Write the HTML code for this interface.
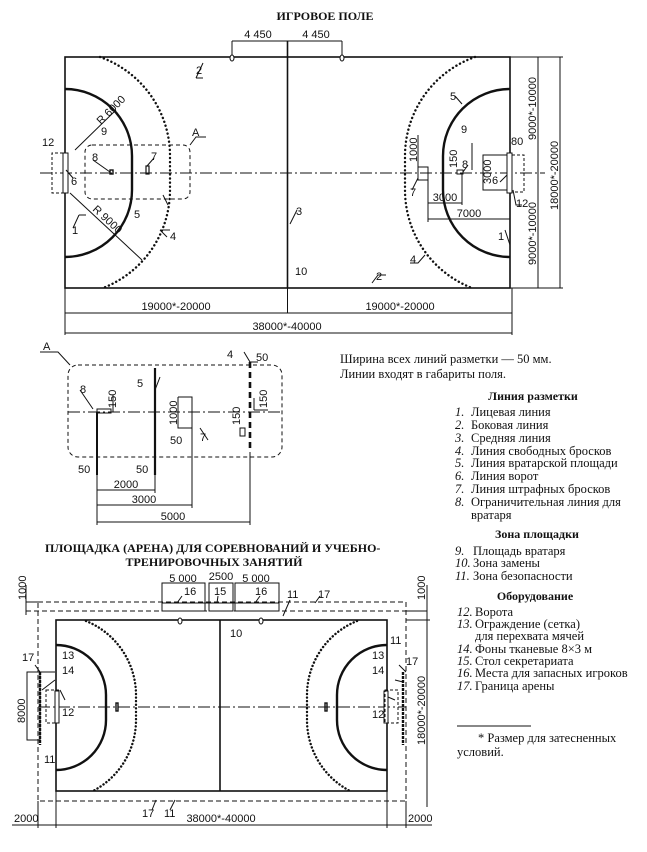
<!DOCTYPE html>
<html><head><meta charset="utf-8"><style>
html,body{margin:0;padding:0;background:#fff;}
svg{display:block;}
.s{font-family:"Liberation Sans",sans-serif;font-size:11px;fill:#111;}
.r{font-family:"Liberation Serif",serif;font-size:12.5px;fill:#111;}
.b{font-family:"Liberation Serif",serif;font-size:12px;font-weight:bold;fill:#111;}
.i{font-style:italic;}
</style></head><body>
<svg width="647" height="852" viewBox="0 0 647 852" xmlns="http://www.w3.org/2000/svg">
<g stroke="#111" fill="none" stroke-width="1">
<!-- ===== TOP FIELD ===== -->
<rect x="65" y="57" width="445" height="231" stroke-width="1.6"/>
<line x1="287.5" y1="41" x2="287.5" y2="288" stroke-width="1.6"/>
<line x1="40" y1="173" x2="545" y2="173" stroke-dasharray="12 3 2 3"/>
<!-- goal areas -->
<path d="M65 89 A67 67 0 0 1 132 156 L132 190 A67 67 0 0 1 65 257" stroke-width="2.4"/>
<path d="M510 89 A67 67 0 0 0 443 156 L443 190 A67 67 0 0 0 510 257" stroke-width="2.4"/>
<!-- free throw dotted -->
<path d="M100 57 A105 105 0 0 1 170 156 L170 190 A105 105 0 0 1 103 288" stroke-width="2.4" stroke-dasharray="0.1 4" stroke-linecap="round"/>
<path d="M475 57 A105 105 0 0 0 405 156 L405 190 A105 105 0 0 0 472 288" stroke-width="2.4" stroke-dasharray="0.1 4" stroke-linecap="round"/>
<!-- goals -->
<rect x="63" y="153" width="5" height="40" fill="#fff"/>
<rect x="507" y="153" width="5" height="40" fill="#fff"/>
<path d="M63 153 H52 V193 H63" stroke-dasharray="3 2"/>
<path d="M512 155 H524 V192 H512" stroke-dasharray="3 2"/>
<path d="M507 155 H483 V190 H507"/>
<!-- radius lines -->
<line x1="75" y1="150" x2="116" y2="110"/>
<line x1="70" y1="193" x2="142" y2="260"/>
<!-- box A -->
<rect x="85" y="145" width="105" height="54" rx="7" stroke-dasharray="4 3"/>
<path d="M190 145 L196 137 H206"/>
<!-- marks 7,8 -->
<rect x="110" y="170" width="3" height="4" stroke-width="1.4"/>
<rect x="146" y="166" width="3" height="8" stroke-width="1.2"/>
<rect x="418" y="167" width="10" height="13"/>
<rect x="457" y="170" width="6" height="4"/>
<!-- top dims -->
<path d="M232 41 H342 M232 41 V60 M342 41 V60"/>
<ellipse cx="232" cy="58" rx="2" ry="3" fill="#fff"/>
<ellipse cx="342" cy="58" rx="2" ry="3" fill="#fff"/>
<!-- bottom dims -->
<path d="M65 288 V335 M287.5 288 V313 M512 288 V335 M65 313 H512 M65 333 H512"/>
<!-- right dims -->
<path d="M510 57 H563 M510 288 H563 M538 57 V288 M560 57 V288"/>
<!-- right side detail dims -->
<path d="M418 167 V135 M428 180 V222 M462 174 V205 M428 203 H462 M428 219 H510 M472 170 V143"/>
<!-- leaders -->
<path d="M196 78 L203 63 M203 78 H196"/>
<path d="M73 228 L79 215 M79 215 H86"/>
<path d="M73 178 L66 170"/>
<path d="M168 205 L163 195"/>
<path d="M167 237 L160 230 M160 230 H170"/>
<path d="M290 224 L297 210"/>
<path d="M372 283 L378 275 M378 275 H386"/>
<path d="M505 230 L510 245"/>
<path d="M93 160 L110 172"/>
<path d="M147 166 L154 158"/>
<path d="M418 178 L412 190"/>
<path d="M463 172 L468 165"/>
<path d="M500 182 L507 175"/>
<path d="M513 190 L516 205 H522"/>
<path d="M425 255 L418 263 H410"/>
<path d="M455 96 L462 104"/>

<!-- ===== DETAIL A ===== -->
<rect x="68" y="365" width="214" height="92" rx="10" stroke-dasharray="4 3"/>
<path d="M40 352 H58 L70 365"/>
<line x1="68" y1="412" x2="282" y2="412" stroke-dasharray="12 3 2 3"/>
<line x1="97" y1="412" x2="97" y2="475" stroke-width="2"/>
<rect x="97" y="409" width="14" height="4"/>
<line x1="155" y1="368" x2="155" y2="475" stroke-width="2.2"/>
<path d="M178 397 H192 V448 M178 397 V428 H192"/>
<line x1="250" y1="362" x2="250" y2="452" stroke-width="2.6" stroke-dasharray="6 4"/>
<rect x="240" y="428" width="5" height="8"/>
<path d="M254 410 H268 M254 398 V410 M113 395 V412"/>
<path d="M97 475 V525 M155 475 V493 M192 448 V508 M250 452 V525 M97 490 H155 M97 505 H192 M97 522 H250"/>
<path d="M80 390 L93 409 M160 377 L155 390 M208 440 L200 428 M244 352 L250 362 H258"/>

<!-- ===== ARENA ===== -->
<rect x="56" y="620" width="331" height="171" stroke-width="1.6"/>
<line x1="220" y1="620" x2="220" y2="791" stroke-width="1.6"/>
<line x1="38" y1="707" x2="406" y2="707" stroke-dasharray="12 3 2 3"/>
<path d="M56 645 A50 50 0 0 1 106 695 L106 720 A50 50 0 0 1 56 770" stroke-width="2.4"/>
<path d="M387 645 A50 50 0 0 0 337 695 L337 720 A50 50 0 0 0 387 770" stroke-width="2.4"/>
<path d="M86 621 A80 80 0 0 1 136 695 L136 720 A80 80 0 0 1 93 791" stroke-width="2.4" stroke-dasharray="0.1 3.5" stroke-linecap="round"/>
<path d="M357 621 A80 80 0 0 0 307 695 L307 720 A80 80 0 0 0 350 791" stroke-width="2.4" stroke-dasharray="0.1 3.5" stroke-linecap="round"/>
<rect x="55" y="691" width="4" height="32" fill="#fff"/>
<rect x="384" y="691" width="4" height="32" fill="#fff"/>
<rect x="46" y="690" width="13" height="33" stroke-dasharray="3 2"/>
<rect x="385" y="690" width="13" height="33" stroke-dasharray="3 2"/>
<rect x="116" y="703" width="2" height="8" stroke-width="1.4"/>
<rect x="325" y="703" width="2" height="8" stroke-width="1.4"/>
<!-- arena boundary -->
<path d="M38 602 H406 V801 H38 Z" stroke-dasharray="5 3"/>
<line x1="26" y1="611" x2="406" y2="611" stroke-dasharray="5 3"/>
<line x1="406" y1="611" x2="427" y2="611"/>
<line x1="26" y1="602" x2="38" y2="602"/>
<line x1="26" y1="585" x2="26" y2="615"/>
<line x1="40" y1="672" x2="40" y2="745" stroke-width="2.4" stroke-dasharray="3 1"/>
<line x1="403" y1="672" x2="403" y2="745" stroke-width="2.4" stroke-dasharray="3 1"/>
<rect x="27" y="672" width="13" height="68"/>
<!-- bench boxes -->
<rect x="162" y="583" width="43" height="28"/>
<rect x="209" y="583" width="24" height="28"/>
<rect x="235" y="583" width="44" height="28"/>
<path d="M162 603 H279"/>
<ellipse cx="180" cy="621" rx="2" ry="3" fill="#fff"/>
<ellipse cx="261" cy="621" rx="2" ry="3" fill="#fff"/>
<!-- dims -->
<path d="M427 585 V807 M406 620 H430 M38 801 V828 M56 791 V828 M387 791 V828 M406 801 V828 M12 825 H432"/>
<!-- leaders arena -->
<path d="M177 603 L182 596 M217 603 L218 596 M255 603 L260 596 M283 616 L290 600 M315 603 L320 596 M35 665 L40 672 H55 M42 690 L55 680 M60 690 L65 700 M395 700 L388 697 M399 665 L406 672 M395 680 L403 682 M152 810 L156 800 M170 810 L175 800"/>
<!-- footnote line -->
<line x1="457" y1="726" x2="531" y2="726"/>
</g>

<!-- ===== TEXT ===== -->
<text x="325" y="20" class="b" font-size="13" text-anchor="middle">ИГРОВОЕ ПОЛЕ</text>
<text x="258" y="38" class="s" text-anchor="middle">4 450</text>
<text x="316" y="38" class="s" text-anchor="middle">4 450</text>
<text x="196" y="74" class="s">2</text>
<text x="101" y="135" class="s">9</text>
<text x="461" y="133" class="s">9</text>
<text x="192" y="136" class="s">A</text>
<text x="42" y="146" class="s">12</text>
<text x="92" y="161" class="s">8</text>
<text x="151" y="160" class="s">7</text>
<text x="71" y="185" class="s">6</text>
<text x="134" y="218" class="s">5</text>
<text x="72" y="234" class="s">1</text>
<text x="170" y="240" class="s">4</text>
<text x="296" y="215" class="s">3</text>
<text x="295" y="275" class="s">10</text>
<text x="376" y="280" class="s">2</text>
<text x="450" y="100" class="s">5</text>
<text x="511" y="145" class="s">80</text>
<text x="410" y="196" class="s">7</text>
<text x="462" y="168" class="s">8</text>
<text x="492" y="184" class="s">6</text>
<text x="516" y="207" class="s">12</text>
<text x="445" y="201" class="s" text-anchor="middle">3000</text>
<text x="469" y="217" class="s" text-anchor="middle">7000</text>
<text x="498" y="240" class="s">1</text>
<text x="410" y="263" class="s">4</text>
<text x="176" y="310" class="s" text-anchor="middle">19000*-20000</text>
<text x="400" y="310" class="s" text-anchor="middle">19000*-20000</text>
<text x="287" y="330" class="s" text-anchor="middle">38000*-40000</text>
<text transform="translate(101,125) rotate(-45)" class="s">R 6000</text>
<text transform="translate(92,210) rotate(43)" class="s">R 9000</text>
<text transform="translate(417,162) rotate(-90)" class="s">1000</text>
<text transform="translate(457,168) rotate(-90)" class="s">150</text>
<text transform="translate(491,184) rotate(-90)" class="s">3000</text>
<text transform="translate(536,140) rotate(-90)" class="s">9000*-10000</text>
<text transform="translate(536,265) rotate(-90)" class="s">9000*-10000</text>
<text transform="translate(558,210) rotate(-90)" class="s">18000*-20000</text>

<!-- detail A text -->
<text x="43" y="350" class="s">A</text>
<text x="80" y="393" class="s">8</text>
<text x="137" y="387" class="s">5</text>
<text x="227" y="358" class="s">4</text>
<text x="256" y="361" class="s">50</text>
<text x="200" y="441" class="s">7</text>
<text x="170" y="444" class="s">50</text>
<text x="78" y="473" class="s">50</text>
<text x="136" y="473" class="s">50</text>
<text x="126" y="488" class="s" text-anchor="middle">2000</text>
<text x="144" y="503" class="s" text-anchor="middle">3000</text>
<text x="173" y="520" class="s" text-anchor="middle">5000</text>
<text transform="translate(116,408) rotate(-90)" class="s">150</text>
<text transform="translate(177,425) rotate(-90)" class="s">1000</text>
<text transform="translate(240,425) rotate(-90)" class="s">150</text>
<text transform="translate(267,408) rotate(-90)" class="s">150</text>

<!-- arena text -->
<text x="45" y="552" class="b">ПЛОЩАДКА (АРЕНА) ДЛЯ СОРЕВНОВАНИЙ И УЧЕБНО-</text>
<text x="214" y="566" class="b" text-anchor="middle">ТРЕНИРОВОЧНЫХ ЗАНЯТИЙ</text>
<text x="183" y="582" class="s" text-anchor="middle" font-size="10.5">5 000</text>
<text x="221" y="580" class="s" text-anchor="middle" font-size="10.5">2500</text>
<text x="256" y="582" class="s" text-anchor="middle" font-size="10.5">5 000</text>
<text x="184" y="595" class="s">16</text>
<text x="214" y="595" class="s">15</text>
<text x="255" y="595" class="s">16</text>
<text x="287" y="598" class="s">11</text>
<text x="318" y="598" class="s">17</text>
<text x="230" y="637" class="s">10</text>
<text x="390" y="644" class="s">11</text>
<text x="372" y="659" class="s">13</text>
<text x="406" y="665" class="s">17</text>
<text x="372" y="674" class="s">14</text>
<text x="372" y="718" class="s">12</text>
<text x="62" y="659" class="s">13</text>
<text x="22" y="661" class="s">17</text>
<text x="62" y="674" class="s">14</text>
<text x="62" y="716" class="s">12</text>
<text x="44" y="763" class="s">11</text>
<text x="142" y="817" class="s">17</text>
<text x="164" y="817" class="s">11</text>
<text x="14" y="822" class="s">2000</text>
<text x="221" y="822" class="s" text-anchor="middle">38000*-40000</text>
<text x="408" y="822" class="s">2000</text>
<text transform="translate(26,600) rotate(-90)" class="s">1000</text>
<text transform="translate(425,600) rotate(-90)" class="s">1000</text>
<text transform="translate(25,723) rotate(-90)" class="s">8000</text>
<text transform="translate(425,745) rotate(-90)" class="s">18000*-20000</text>

<!-- notes -->
<text x="340" y="363" class="r">Ширина всех линий разметки — 50 мм.</text>
<text x="340" y="378" class="r">Линии входят в габариты поля.</text>
<g class="r" font-size="11.5">
<text x="533" y="400" class="b" font-size="10.5" text-anchor="middle">Линия разметки</text>
<text x="455" y="416" class="i">1.</text><text x="471" y="416">Лицевая линия</text>
<text x="455" y="429" class="i">2.</text><text x="471" y="429">Боковая линия</text>
<text x="455" y="442" class="i">3.</text><text x="471" y="442">Средняя линия</text>
<text x="455" y="455" class="i">4.</text><text x="471" y="455">Линия свободных бросков</text>
<text x="455" y="467" class="i">5.</text><text x="471" y="467">Линия вратарской площади</text>
<text x="455" y="480" class="i">6.</text><text x="471" y="480">Линия ворот</text>
<text x="455" y="493" class="i">7.</text><text x="471" y="493">Линия штрафных бросков</text>
<text x="455" y="506" class="i">8.</text><text x="471" y="506">Ограничительная линия для</text>
<text x="471" y="519">вратаря</text>
<text x="537" y="538" class="b" font-size="10.5" text-anchor="middle">Зона площадки</text>
<text x="455" y="555" class="i">9.</text><text x="473" y="555">Площадь вратаря</text>
<text x="455" y="567" class="i">10.</text><text x="473" y="567">Зона замены</text>
<text x="455" y="580" class="i">11.</text><text x="473" y="580">Зона безопасности</text>
<text x="535" y="600" class="b" font-size="10.5" text-anchor="middle">Оборудование</text>
<text x="457" y="616" class="i">12.</text><text x="475" y="616">Ворота</text>
<text x="457" y="628" class="i">13.</text><text x="475" y="628">Ограждение (сетка)</text>
<text x="475" y="640">для перехвата мячей</text>
<text x="457" y="653" class="i">14.</text><text x="475" y="653">Фоны тканевые 8×3 м</text>
<text x="457" y="665" class="i">15.</text><text x="475" y="665">Стол секретариата</text>
<text x="457" y="677" class="i">16.</text><text x="475" y="677">Места для запасных игроков</text>
<text x="457" y="690" class="i">17.</text><text x="475" y="690">Граница арены</text>
<text x="478" y="742">* Размер для затесненных</text>
<text x="457" y="756">условий.</text>
</g>
</svg>
</body></html>
